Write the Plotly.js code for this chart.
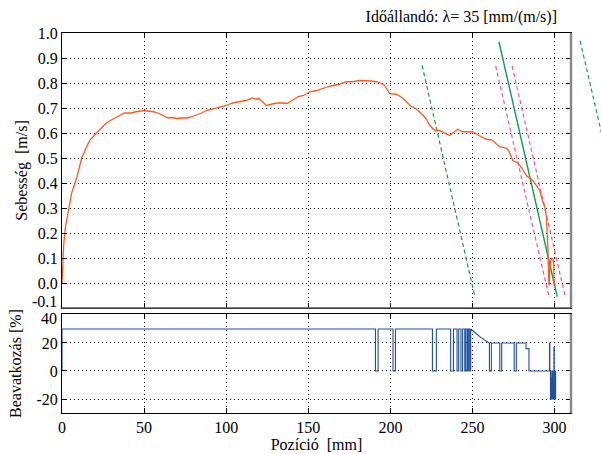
<!DOCTYPE html>
<html>
<head>
<meta charset="utf-8">
<script src="https://cdn.plot.ly/plotly-3.0.1.min.js"></script>
<style>
html,body{margin:0;padding:0;background:#fff;}
#chart{width:601px;height:454px;}
</style>
</head>
<body>
<div id="chart"></div>
<script>
// Sebesség (speed) vs position
const posV = [0, 0.5, 1.0, 2.0, 3.8, 5.9, 8.9, 12, 15, 17, 21, 24, 27, 30, 34, 38, 42, 45, 50, 55.6, 59, 61.5, 64.7, 67, 70, 73, 76, 79, 82, 85, 88, 91, 94, 97, 100, 104, 108, 112, 116, 118, 120, 122, 124.5, 128, 131, 134, 137, 140, 143.6, 147, 151, 155, 159, 162, 165, 169, 173, 177, 181, 184.4, 188, 191.5, 194, 196.5, 198, 199.6, 203.7, 207.5, 212, 216, 220, 222, 224, 227, 230, 233, 236, 238, 241, 244, 247, 250, 254, 258.5, 262, 266.5, 270.6, 272, 274.6, 277.6, 280, 282.8, 286.7, 291, 292.5, 294, 295, 295.9, 296.5, 296.7, 297.0, 297.5, 298.2, 299, 299.5, 299.7, 300.5];
const sebesseg = [0, 0.08, 0.15, 0.22, 0.29, 0.36, 0.42, 0.5, 0.545, 0.572, 0.6, 0.62, 0.64, 0.652, 0.665, 0.68, 0.68, 0.685, 0.69, 0.685, 0.678, 0.67, 0.66, 0.662, 0.658, 0.66, 0.66, 0.665, 0.672, 0.68, 0.69, 0.695, 0.70, 0.703, 0.71, 0.72, 0.725, 0.73, 0.74, 0.735, 0.738, 0.725, 0.71, 0.716, 0.72, 0.72, 0.718, 0.73, 0.745, 0.75, 0.765, 0.77, 0.78, 0.785, 0.79, 0.795, 0.805, 0.805, 0.81, 0.81, 0.808, 0.805, 0.8, 0.79, 0.775, 0.757, 0.755, 0.74, 0.71, 0.695, 0.67, 0.655, 0.63, 0.61, 0.61, 0.6, 0.59, 0.6, 0.615, 0.605, 0.605, 0.605, 0.59, 0.575, 0.572, 0.545, 0.54, 0.53, 0.49, 0.48, 0.46, 0.43, 0.41, 0.37, 0.332, 0.305, 0.265, 0.145, 0.0, -0.01, 0.05, 0.085, 0.098, 0.095, 0.08, -0.01, 0.0];

// reference lines (time constant lambda = 35)
const greenDash1X = [219.3, 251.3];  const greenDash1Y = [0.87, -0.05];
const greenSolidX = [266.1, 301.6];  const greenSolidY = [0.965, -0.055];
const pink1X = [264.1, 296.6];       const pink1Y = [0.868, -0.055];
const pink2X = [274.1, 306.5];       const pink2Y = [0.868, -0.055];
const greenDash2X = [315.6, 330];    const greenDash2Y = [0.968, 0.56];

// Beavatkozás (intervention) signal
const beavX = [0,0, 190.9,190.9,192.5,192.5, 201.6,201.6,203.1,203.1, 225.6,225.6,228.0,228.0,
  236.7,236.7,238.4,238.4, 240.6,240.6,241.6,241.6, 243.0,243.0,244.0,244.0, 245.3,245.3,246.0,246.0,
  246.9,246.9,247.5,247.5, 248.3,248.3,248.9,248.9, 251,255,259.5,260.3,
  260.3,261.5,261.5, 266.6,266.6,267.8,267.8, 275.4,275.4,276.7,276.7, 282.6,282.6,284.4,284.4,
  296.9,296.9,297.1,297.1, 297.5,297.5,297.7,297.7, 297.9,297.9,298.2,298.2, 298.4,298.4,298.7,298.7,
  298.9,298.9,299.2,299.2, 299.4,299.4,299.6,299.6, 299.8,299.8,300.1,300.1, 300.3,300.3,300.6,300.6,301];
const beavY = [0,30, 30,0,0,30, 30,0,0,30, 30,0,0,30,
  30,0,0,30, 30,0,0,30, 30,0,0,30, 30,0,0,30,
  30,0,0,30, 30,0,0,30, 28,24,20.5,20,
  0,0,20, 20,0,0,20, 20,0,0,20, 20,16,16,0,
  0,20,20,0, 0,-20,-20,0, 0,-20,-20,-5, -5,-20,-20,0,
  0,-20,-20,-8, -8,-20,-20,17, 17,-20,-20,0, 0,-20,-20,0,0];

// ticks
const xTickVals = [0, 50, 100, 150, 200, 250, 300];
const xTickText = ['0', '50', '100', '150', '200', '250', '300'];
const y1TickVals = [-0.1, 0.0, 0.1, 0.2, 0.3, 0.4, 0.5, 0.6, 0.7, 0.8, 0.9, 1.0];
const y1TickText = ['-0.1', '0.0', '0.1', '0.2', '0.3', '0.4', '0.5', '0.6', '0.7', '0.8', '0.9', '1.0'];
const y2TickVals = [-20, 0, 20, 40];
const y2TickText = ['-20', '0', '20', '40'];

const SERIF = 'Times New Roman';
const GREEN = '#129a4e', PINK = '#ff4f8f', ORANGE = '#ff5a1e', BLUE = '#2150a0';

const traces = [
  {x: greenDash1X, y: greenDash1Y, xaxis: 'x', yaxis: 'y', mode: 'lines', line: {color: GREEN, width: 1.2, dash: '4px,3px'}},
  {x: pink1X, y: pink1Y, xaxis: 'x', yaxis: 'y', mode: 'lines', line: {color: PINK, width: 1.2, dash: '4px,3px'}},
  {x: pink2X, y: pink2Y, xaxis: 'x', yaxis: 'y', mode: 'lines', line: {color: PINK, width: 1.2, dash: '4px,3px'}},
  {x: greenSolidX, y: greenSolidY, xaxis: 'x', yaxis: 'y', mode: 'lines', line: {color: GREEN, width: 1.4}},
  {x: posV, y: sebesseg, xaxis: 'x', yaxis: 'y', mode: 'lines', line: {color: ORANGE, width: 1.3}},
  {x: greenDash2X, y: greenDash2Y, xaxis: 'x3', yaxis: 'y3', mode: 'lines', line: {color: GREEN, width: 1.2, dash: '4px,3px'}},
  {x: beavX, y: beavY, xaxis: 'x2', yaxis: 'y2', mode: 'lines', line: {color: BLUE, width: 1.1}}
];

const W = 601, H = 454;
const mL = 62, mR = 0, mT = 33, mB = 41;
const plotW = W - mL - mR, plotH = H - mT - mB;
const xDomEnd = (571 - mL) / plotW;
const topDomStart = (413 - 308) / plotH;
const botDomEnd = (413 - 314) / plotH;
const x3RangeEnd = 310 * plotW / (571 - mL);

function mkFont() { return {family: SERIF, size: 16, color: '#000'}; }
function axCommon() {
  return {
    showline: true, linecolor: '#000', linewidth: 1, mirror: 'ticks',
    ticks: 'inside', ticklen: 5, tickcolor: '#000', tickwidth: 1,
    showgrid: true, gridcolor: '#000', gridwidth: 1, griddash: '1px,3px',
    zeroline: false, tickfont: mkFont(), fixedrange: true
  };
}

// end labels shifted inward (as in the reference), drawn as annotations
const y1AxisText = y1TickText.map((t, i) => i === 0 ? '' : t);
const y2AxisText = y2TickText.map((t, i) => i === y2TickText.length - 1 ? '' : t);

const layout = {
  width: W, height: H,
  margin: {l: mL, r: mR, t: mT, b: mB, pad: 0},
  paper_bgcolor: '#fff', plot_bgcolor: 'rgba(0,0,0,0)',
  showlegend: false,
  font: mkFont(),
  title: {text: 'Időállandó: λ= 35 [mm/(m/s)]', font: mkFont(),
    xref: 'container', yref: 'container', x: 557 / W, xanchor: 'right', y: 1 - 16 / H, yanchor: 'middle'},
  xaxis: Object.assign(axCommon(), {domain: [0, xDomEnd], range: [0, 310], anchor: 'y',
    tickvals: xTickVals, ticktext: xTickText, showticklabels: false}),
  yaxis: Object.assign(axCommon(), {domain: [topDomStart, 1], range: [-0.1, 1.0], anchor: 'x',
    tickvals: y1TickVals, ticktext: y1AxisText,
    title: {text: 'Sebesség \u00a0[m/s]', font: mkFont(), standoff: 6}}),
  xaxis2: Object.assign(axCommon(), {domain: [0, xDomEnd], range: [0, 310], anchor: 'y2',
    tickvals: xTickVals, ticktext: xTickText,
    title: {text: 'Pozíció \u00a0[mm]', font: mkFont(), standoff: 2}}),
  yaxis2: Object.assign(axCommon(), {domain: [0, botDomEnd], range: [-30, 40.7], anchor: 'x2',
    tickvals: y2TickVals, ticktext: y2AxisText,
    title: {text: 'Beavatkozás [%]', font: mkFont(), standoff: 10}}),
  xaxis3: {domain: [0, 1], range: [0, x3RangeEnd], anchor: 'y3', visible: false, showgrid: false, zeroline: false, fixedrange: true},
  yaxis3: {domain: [topDomStart, 1], range: [-0.1, 1.0], anchor: 'x3', visible: false, showgrid: false, zeroline: false, fixedrange: true},
  annotations: [
    {text: y1TickText[0], xref: 'paper', x: 0, xanchor: 'right', xshift: -3, yref: 'y', y: y1TickVals[0], yanchor: 'middle', yshift: 7, showarrow: false, font: mkFont()},
    {text: y2TickText[y2TickText.length - 1], xref: 'paper', x: 0, xanchor: 'right', xshift: -3, yref: 'y2', y: y2TickVals[y2TickVals.length - 1], yanchor: 'middle', yshift: -4, showarrow: false, font: mkFont()}
  ],
  shapes: [
    {type: 'line', xref: 'paper', yref: 'paper', x0: xDomEnd, x1: xDomEnd, y0: topDomStart, y1: 1, line: {color: '#888', width: 2.5}},
    {type: 'line', xref: 'paper', yref: 'paper', x0: xDomEnd, x1: xDomEnd, y0: 0, y1: botDomEnd, line: {color: '#888', width: 2.5}},
    {type: 'line', xref: 'paper', yref: 'paper', x0: 0, x1: xDomEnd, y0: topDomStart, y1: topDomStart, line: {color: '#555', width: 1.5}}
  ]
};

Plotly.newPlot('chart', traces, layout, {displayModeBar: false, staticPlot: true});
</script>
</body>
</html>
